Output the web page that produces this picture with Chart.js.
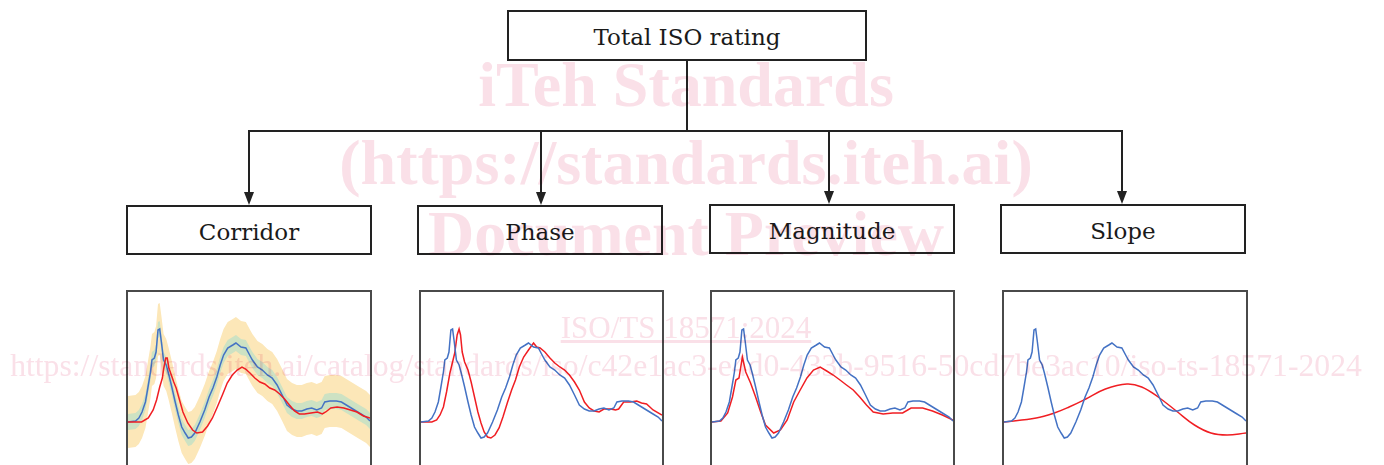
<!DOCTYPE html>
<html>
<head>
<meta charset="utf-8">
<script src="https://cdn.jsdelivr.net/npm/chart.js@4"></script>
<style>
    html, body { margin: 0; padding: 0; background: #fff; }
    body { width: 1384px; height: 465px; position: relative; overflow: hidden; }
    .box {
        position: absolute; box-sizing: border-box; border: 2px solid #222;
        display: flex; align-items: center; justify-content: center; padding-top: 3px;
        font-family: "DejaVu Serif", serif; font-size: 23px; color: #1a1a1a;
    }
    .plot {
        position: absolute; top: 290px; height: 190px; box-sizing: border-box;
        border: 2px solid #4a4a4a; background: #fff;
    }
    .plot canvas { display: block; }
    .wm {
        position: absolute; left: -6px; width: 1384px; text-align: center;
        font-family: "Liberation Serif", serif; color: rgb(250, 224, 232);
        mix-blend-mode: multiply; pointer-events: none; white-space: nowrap;
    }
    .wm.big { font-size: 64px; line-height: 64px; font-weight: bold; }
    svg { position: absolute; left: 0; top: 0; }
</style>
</head>
<body>

<svg width="1384" height="465">
    <g stroke="#222" stroke-width="2" fill="none">
        <line x1="687" y1="60" x2="687" y2="131"/>
        <line x1="248" y1="131" x2="1123" y2="131"/>
        <line x1="249" y1="131" x2="249" y2="194"/>
        <line x1="541" y1="131" x2="541" y2="194"/>
        <line x1="829" y1="131" x2="829" y2="193"/>
        <line x1="1122" y1="131" x2="1122" y2="193"/>
    </g>
    <g fill="#222">
        <polygon points="244,192 254,192 249,205"/>
        <polygon points="536,192 546,192 541,205"/>
        <polygon points="824,191 834,191 829,204"/>
        <polygon points="1117,191 1127,191 1122,204"/>
    </g>
</svg>

<div class="box" style="left:507px; top:10px; width:360px; height:51px;">Total ISO rating</div>
<div class="box" style="left:126px; top:205px; width:246px; height:50px;">Corridor</div>
<div class="box" style="left:417px; top:205px; width:246px; height:50px;">Phase</div>
<div class="box" style="left:709px; top:204px; width:246px; height:50px;">Magnitude</div>
<div class="box" style="left:1000px; top:204px; width:246px; height:50px;">Slope</div>

<div class="plot" style="left:126px; width:246px;"><canvas id="corridorChart"></canvas></div>
<div class="plot" style="left:419px; width:245px;"><canvas id="phaseChart"></canvas></div>
<div class="plot" style="left:710px; width:245px;"><canvas id="magnitudeChart"></canvas></div>
<div class="plot" style="left:1002px; width:246px;"><canvas id="slopeChart"></canvas></div>

<div class="wm big" style="top:53px;">iTeh Standards</div>
<div class="wm big" style="top:131px;">(https://standards.iteh.ai)</div>
<div class="wm big" style="top:202px;">Document Preview</div>
<div class="wm" style="top:312px; font-size:31px; line-height:31px; text-decoration:underline;">ISO/TS 18571:2024</div>
<div class="wm" style="top:350px; font-size:31.7px; line-height:32px;">https://standards.iteh.ai/catalog/standards/iso/c42e1ac3-e4d0-433b-9516-50cd7be3ac10/iso-ts-18571-2024</div>

<script>
// reference signal (blue), same in all four panels
const refTime = [0, 3.1, 4.5, 5.8, 7.2, 8.2, 9.3, 9.9, 10.9, 11.6, 12.4, 13.1, 13.8, 14.7, 15.8, 16.7, 18.1, 19.5, 20.8, 22.2,
    23.6, 24.9, 26.2, 27.6, 29.7, 31.7, 33.5, 35.1, 36.7, 38.1, 39.5, 41.2, 43.3, 44.6, 46.7, 48.7, 50.7, 51.4, 53.5, 55.5,
    57.6, 59.6, 61.6, 63.7, 65.7, 67.8, 69.8, 71.8, 73.9, 75.9, 78, 80, 81.3, 83.4, 86.1, 88.2, 90.2, 92.9, 95.6, 98.4, 100];
const refValues = [0, 1, 4, 10, 20, 34, 50, 62, 64, 70, 92, 93, 80, 62, 57, 49, 35, 20, 7, -5,
    -11, -16, -15, -11, 0, 12, 25, 34, 45, 57, 67, 74, 77, 79, 75, 74, 65, 62, 55, 52,
    47, 44, 37, 27, 17, 13, 11, 11, 13, 14, 12, 14, 20, 21, 21, 20, 17, 13, 9, 5, 1];

// corridor half widths (inner / outer)
const innerWidth = 8;
const outerWidth = 26;

// evaluated signals (red)
const corridorTime = [0, 5.6, 8.4, 10.4, 11.8, 13.1, 14.2, 14.8, 15.6, 16.2, 16.9, 17.9, 18.9, 19.9, 21.3, 22.7, 24.7, 26.7,
    28.4, 30.8, 32.9, 34.9, 36.9, 39, 41, 43.1, 45.1, 47.1, 48.6, 50.4, 52.4, 54.5, 56.5, 58.6, 60.6, 62.7, 64.7, 66.7,
    68.8, 70.8, 72.9, 75.6, 78.3, 80.3, 81.7, 83.8, 86.4, 89.2, 91.9, 94.6, 97.3, 100];
const corridorValues = [0, 0, 4, 12, 22, 35, 44, 54, 64, 64, 54, 47, 40, 34, 22, 10, -1, -8,
    -11, -10, -4, 4, 15, 27, 39, 47, 52, 55, 53, 49, 44, 40, 38, 34, 32, 28, 23, 17,
    11, 8, 8, 9, 10, 8, 10, 14, 15, 14, 12, 10, 6, 4];

const phaseTime = [0, 4.5, 6.5, 7.9, 9.3, 10.6, 12, 13.3, 14, 15, 15.8, 16.4, 17.1, 18.1, 19.5, 20.8, 22.2, 23.6, 24.9,
    26.2, 27.6, 29, 30.7, 32.4, 34, 35.8, 37.6, 39.2, 40.8, 42.6, 44.6, 46.7, 48, 49.4, 51.4, 53.5, 55.5, 57.6, 59.6,
    61.6, 63.7, 65.7, 67.8, 69.8, 71.8, 73.9, 75.9, 78.7, 80.7, 82, 84.1, 86.8, 89.5, 91.5, 93.6, 96.3, 100];
const phaseValues = [0, 0, 2, 7, 15, 30, 49, 62, 69, 87, 93, 87, 70, 60, 52, 40, 25, 10, -1,
    -10, -15, -16, -13, -6, 5, 19, 32, 42, 55, 65, 72, 79, 75, 74, 70, 64, 59, 55, 52,
    47, 40, 32, 20, 14, 11, 10, 13, 13, 12, 13, 20, 20, 21, 19, 18, 12, 7];

const magnitudeTime = [0, 3.7, 6.5, 8.5, 9.9, 11.2, 12.6, 14, 16, 18.1, 20.2, 22.2, 25.6, 28.4, 31.2, 33.9, 36.6, 39.4,
    42.1, 44.9, 47.6, 50.3, 53.1, 55.8, 58.6, 61.3, 64.1, 66.9, 71, 75, 79.1, 82.6, 87.4, 91.5, 95.6, 100];
const magnitudeValues = [0, 1, 9, 25, 42, 44, 65, 50, 39, 25, 10, -3, -11, -8, 2, 20, 32, 44,
    52, 55, 51, 47, 42, 37, 32, 25, 17, 10, 8, 9, 9, 14, 14, 11, 7, 2];

const slopeTime = [0, 13.3, 20.8, 26.9, 33.8, 41.9, 50.8, 56.9, 63.7, 71.2, 78.7, 85.5, 92.2, 100];
const slopeValues = [0, 4, 9, 15, 23, 33, 38, 35, 25, 11, -3, -11, -13, -11];

const blue = '#4472c4';
const red = '#f01e23';

function points(times, values, offset) {
    return times.map((t, i) => ({ x: t, y: values[i] + (offset || 0) }));
}

function lineSet(data, color, tension) {
    return {
        data: data,
        borderColor: color,
        borderWidth: 1.5,
        pointRadius: 0,
        tension: tension || 0,
        fill: false
    };
}

function makeChart(id, datasets) {
    const ctx = document.getElementById(id).getContext('2d');
    return new Chart(ctx, {
        type: 'line',
        data: { datasets: datasets },
        options: {
            animation: false,
            responsive: true,
            maintainAspectRatio: false,
            layout: { padding: 0 },
            plugins: {
                legend: { display: false },
                tooltip: { enabled: false }
            },
            scales: {
                x: { type: 'linear', min: 0, max: 100, display: false },
                y: { min: -56, max: 130, display: false }
            }
        }
    });
}

document.addEventListener('DOMContentLoaded', function() {
    const ref = points(refTime, refValues);

    // Corridor panel: red on top, then blue, then inner and outer bands
    makeChart('corridorChart', [
        lineSet(points(corridorTime, corridorValues), red),
        lineSet(ref, blue),
        {
            data: points(refTime, refValues, innerWidth),
            borderWidth: 0, pointRadius: 0, fill: '+1',
            backgroundColor: 'rgba(196, 224, 196, 0.85)'
        },
        {
            data: points(refTime, refValues, -innerWidth),
            borderWidth: 0, pointRadius: 0, fill: false
        },
        {
            data: points(refTime, refValues, outerWidth),
            borderWidth: 0, pointRadius: 0, fill: '+1',
            backgroundColor: 'rgba(252, 231, 184, 1)'
        },
        {
            data: points(refTime, refValues, -outerWidth),
            borderWidth: 0, pointRadius: 0, fill: false
        }
    ]);

    makeChart('phaseChart', [
        lineSet(ref, blue),
        lineSet(points(phaseTime, phaseValues), red)
    ]);

    makeChart('magnitudeChart', [
        lineSet(ref, blue),
        lineSet(points(magnitudeTime, magnitudeValues), red)
    ]);

    makeChart('slopeChart', [
        lineSet(ref, blue),
        lineSet(points(slopeTime, slopeValues), red, 0.4)
    ]);
});
</script>
</body>
</html>
